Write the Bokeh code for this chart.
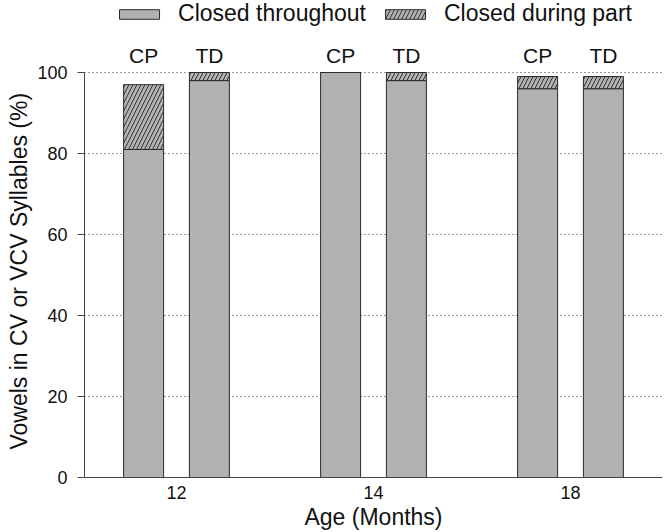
import numpy as np
from bokeh.plotting import figure
from bokeh.models import (ColumnDataSource, Range1d, FixedTicker, Legend,
                          LegendItem, LabelSet, Title)
from bokeh.core.properties import value
from bokeh.embed import file_html
from bokeh.resources import INLINE

# ---- data ----
ages = ["12", "14", "18"]
groups = ["CP", "TD"]
cp_throughout = [81, 100, 96]
cp_part = [16, 0, 3]
td_throughout = [98, 98, 96]
td_part = [2, 2, 3]
y_ticks = [0, 20, 40, 60, 80, 100]

# ---- styling ----
FONT = "Liberation Sans"
GRAY = "#b1b1b1"
EDGE = "#2b2b2b"
OFFSET = 0.167
BAR_W = 0.203

idx = np.arange(len(ages))
xs = list(idx - OFFSET) + list(idx + OFFSET)
throughout = cp_throughout + td_throughout
part = cp_part + td_part
src = ColumnDataSource(dict(
    x=xs,
    throughout=throughout,
    top=[a + b for a, b in zip(throughout, part)],
    group=[groups[0]] * len(ages) + [groups[1]] * len(ages),
    label_y=[max(y_ticks)] * (2 * len(ages)),
))

p = figure(width=664, height=532,
           x_range=Range1d(-0.467, 2.467), y_range=Range1d(0, 117.78),
           output_backend="svg", toolbar_location=None,
           min_border_left=84, min_border_right=2,
           min_border_top=0, min_border_bottom=55)
p.outline_line_color = None
p.background_fill_color = "white"
p.border_fill_color = "white"

p.xgrid.visible = False
p.ygrid.ticker = FixedTicker(ticks=y_ticks[1:])
p.ygrid.grid_line_color = "#333333"
p.ygrid.grid_line_dash = "1 3"
p.ygrid.grid_line_width = 1

r1 = p.vbar(x="x", width=BAR_W, bottom=0, top="throughout", source=src,
            fill_color=GRAY, line_color=EDGE, line_width=1)
r2 = p.vbar(x="x", width=BAR_W, bottom="throughout", top="top", source=src,
            fill_color=GRAY, line_color=EDGE, line_width=1,
            hatch_pattern="/", hatch_color="#333333", hatch_scale=8,
            hatch_weight=1)

# x axis
p.xaxis.ticker = FixedTicker(ticks=[int(i) for i in idx])
p.xaxis.major_label_overrides = {int(i): a for i, a in zip(idx, ages)}
p.xaxis.major_tick_out = 0
p.xaxis.major_tick_in = 0
p.xaxis.minor_tick_out = 0
p.xaxis.minor_tick_in = 0
p.xaxis.major_label_standoff = 8
p.xaxis.axis_label = "Age (Months)"
p.xaxis.axis_label_standoff = 2

# y axis (limited to 0..100; the range above holds legend and group labels)
p.yaxis.ticker = FixedTicker(ticks=y_ticks)
p.yaxis.bounds = (0, 100)
p.yaxis.major_tick_out = 7
p.yaxis.major_tick_in = 0
p.yaxis.minor_tick_out = 0
p.yaxis.minor_tick_in = 0
p.yaxis.major_label_standoff = 10

for ax in (p.xaxis, p.yaxis):
    ax.axis_line_color = "#444444"
    ax.major_tick_line_color = "#444444"
    ax.major_label_text_font = FONT
    ax.major_label_text_font_size = "18px"
    ax.major_label_text_color = "#111111"
    ax.axis_label_text_font = FONT
    ax.axis_label_text_font_size = "23px"
    ax.axis_label_text_font_style = "normal"
    ax.axis_label_text_color = "#111111"

ytitle = Title(text="Vowels in CV or VCV Syllables (%)", align="left",
               offset=28, standoff=5, text_font=FONT,
               text_font_size="23px", text_font_style="normal",
               text_color="#111111")
p.add_layout(ytitle, "left")

labels = LabelSet(x="x", y="label_y", text="group", source=src,
                  text_align="center", text_baseline="alphabetic",
                  y_offset=10, text_font=value(FONT), text_font_size="21px",
                  text_color="#111111")
p.add_layout(labels)

legend = Legend(items=[LegendItem(label="Closed throughout", renderers=[r1]),
                       LegendItem(label="Closed during part", renderers=[r2])],
                orientation="horizontal", location="top_center",
                glyph_width=50, glyph_height=12, label_standoff=14,
                spacing=14, padding=0, margin=0,
                border_line_color=None, background_fill_alpha=0,
                label_text_font=FONT, label_text_font_size="23px",
                label_text_color="#111111")
p.add_layout(legend)

open("out.html", "w").write(file_html(p, INLINE))
